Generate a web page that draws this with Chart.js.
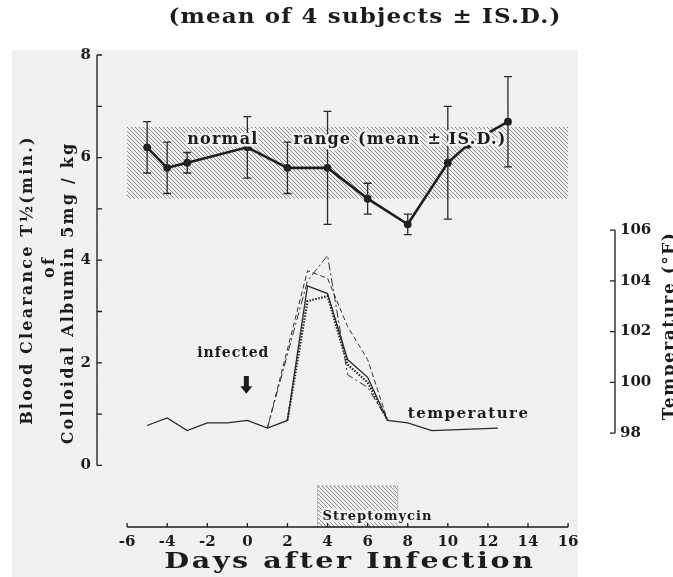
<!DOCTYPE html>
<html>
<head>
<meta charset="utf-8">
<script src="https://cdn.jsdelivr.net/npm/chart.js@4.4.1/dist/chart.umd.min.js"></script>
<style>
  html, body { margin: 0; padding: 0; background: #fff; }
  #wrap { width: 673px; height: 577px; }
</style>
</head>
<body>
<div id="wrap"><canvas id="chart" width="673" height="577"></canvas></div>
<script>
// blood clearance T1/2 (min), mean of 4 subjects and S.D.
const clearDays = [-5, -4, -3, 0, 2, 4, 6, 8, 10, 11, 13];
const clearMean = [6.2, 5.8, 5.9, 6.2, 5.8, 5.8, 5.2, 4.7, 5.9, 6.25, 6.7];
const clearSD = [0.5, 0.5, 0.2, 0.6, 0.5, 1.1, 0.3, 0.2, 1.1, null, 0.88];
const normalRange = [5.2, 6.6];
const normalDays = [-6, 16];
const strepDays = [3.5, 7.5];

// temperature (F), one line per subject
const tempDaysA = [-5, -4, -3, -2, -1, 0, 1, 2, 3, 4, 5, 6, 7, 8, 9.2, 12.5];
const tempValsA = [98.3, 98.6, 98.1, 98.4, 98.4, 98.5, 98.2, 98.5, 103.8, 103.5, 100.9, 100.2, 98.5, 98.4, 98.1, 98.2];
const tempDaysB = [1, 3, 4, 5, 6, 7];
const tempValsB = [98.2, 104.4, 104.1, 102.2, 100.9, 98.5];
const tempDaysC = [1, 3, 4, 5, 6, 7];
const tempValsC = [98.2, 104.0, 105.0, 100.3, 99.8, 98.5];
const tempDaysD = [2, 3, 4, 5, 6, 7];
const tempValsD = [98.5, 103.2, 103.4, 100.7, 100.0, 98.5];

// ticks
const xTicks = [-6, -4, -2, 0, 2, 4, 6, 8, 10, 12, 14, 16];
const yTicks = [0, 1, 2, 3, 4, 5, 6, 7, 8];
const tempTicks = [98, 100, 102, 104, 106];

const ink = "#1c1c1c";
const serif = '"DejaVu Serif", "Liberation Serif", serif';

const pts = (xs, ys) => xs.map((d, i) => ({ x: d, y: ys[i] }));

function hatchPattern(ctx, color) {
  const c = document.createElement("canvas");
  c.width = 4; c.height = 4;
  const g = c.getContext("2d");
  g.strokeStyle = color;
  g.lineWidth = 0.9;
  g.beginPath();
  g.moveTo(-1, -1); g.lineTo(5, 5);
  g.moveTo(-1, 3); g.lineTo(1, 5);
  g.moveTo(3, -1); g.lineTo(5, 1);
  g.stroke();
  return ctx.createPattern(c, "repeat");
}

function haloText(ctx, txt, px, py) {
  ctx.save();
  ctx.strokeStyle = "#f1f1f1";
  ctx.lineWidth = 5;
  ctx.lineJoin = "round";
  ctx.strokeText(txt, px, py);
  ctx.restore();
  ctx.fillText(txt, px, py);
}

// text stretched horizontally, like the wide face of the original
function wideText(ctx, txt, px, py, sx, rot) {
  ctx.save();
  ctx.translate(px, py);
  if (rot) ctx.rotate(rot);
  ctx.scale(sx, 1);
  ctx.fillText(txt, 0, 0);
  ctx.restore();
}

const decor = {
  id: "decor",
  beforeDraw(chart) {
    const ctx = chart.ctx;
    ctx.save();
    ctx.fillStyle = "#fff";
    ctx.fillRect(0, 0, chart.width, chart.height);
    ctx.fillStyle = "#f1f1f1";
    ctx.fillRect(12, 50, 566, 527);
    ctx.restore();
  },
  beforeDatasetsDraw(chart) {
    const { ctx, scales: { x, y, y2 } } = chart;
    ctx.save();
    // normal range band
    ctx.fillStyle = hatchPattern(ctx, "#808080");
    const bx0 = x.getPixelForValue(normalDays[0]), bx1 = x.getPixelForValue(normalDays[1]);
    const by0 = y.getPixelForValue(normalRange[1]), by1 = y.getPixelForValue(normalRange[0]);
    ctx.fillRect(bx0, by0, bx1 - bx0, by1 - by0);
    // streptomycin box
    const sx0 = x.getPixelForValue(strepDays[0]), sx1 = x.getPixelForValue(strepDays[1]);
    const sy0 = y.getPixelForValue(-0.4), sy1 = y.bottom;
    ctx.fillRect(sx0, sy0, sx1 - sx0, sy1 - sy0);
    ctx.strokeStyle = "#888";
    ctx.lineWidth = 0.8;
    ctx.setLineDash([2, 2]);
    ctx.strokeRect(sx0, sy0, sx1 - sx0, sy1 - sy0);
    ctx.setLineDash([]);

    // axes lines with inward ticks
    ctx.strokeStyle = ink;
    ctx.lineWidth = 1.3;
    ctx.beginPath();
    const lx = x.left;
    ctx.moveTo(lx, y.getPixelForValue(0));
    ctx.lineTo(lx, y.getPixelForValue(8));
    yTicks.forEach(v => {
      const py = y.getPixelForValue(v);
      ctx.moveTo(lx, py); ctx.lineTo(lx + 5, py);
    });
    const by = y.bottom;
    ctx.moveTo(x.getPixelForValue(xTicks[0]), by);
    ctx.lineTo(x.getPixelForValue(xTicks[xTicks.length - 1]), by);
    xTicks.forEach(v => {
      const px = x.getPixelForValue(v);
      ctx.moveTo(px, by); ctx.lineTo(px, by - 4);
    });
    const rx = x.right;
    ctx.moveTo(rx, y2.getPixelForValue(tempTicks[0]));
    ctx.lineTo(rx, y2.getPixelForValue(tempTicks[tempTicks.length - 1]));
    tempTicks.forEach(v => {
      const py = y2.getPixelForValue(v);
      ctx.moveTo(rx, py); ctx.lineTo(rx - 5, py);
    });
    ctx.stroke();
    ctx.restore();
  },
  afterDatasetsDraw(chart) {
    const { ctx, scales: { x, y, y2 } } = chart;
    ctx.save();
    // error bars
    ctx.strokeStyle = "#2a2a2a";
    ctx.lineWidth = 1.3;
    ctx.beginPath();
    clearDays.forEach((d, i) => {
      if (clearSD[i] == null) return;
      const px = x.getPixelForValue(d);
      const top = y.getPixelForValue(clearMean[i] + clearSD[i]);
      const bot = y.getPixelForValue(clearMean[i] - clearSD[i]);
      ctx.moveTo(px, top); ctx.lineTo(px, bot);
      ctx.moveTo(px - 4, top); ctx.lineTo(px + 4, top);
      ctx.moveTo(px - 4, bot); ctx.lineTo(px + 4, bot);
    });
    ctx.stroke();

    ctx.fillStyle = ink;
    ctx.textBaseline = "middle";
    ctx.textAlign = "left";
    ctx.font = "bold 16px " + serif;
    ctx.letterSpacing = "1.2px";
    haloText(ctx, "normal", x.getPixelForValue(-3.0), y.getPixelForValue(6.35));
    haloText(ctx, "range (mean \u00b1 IS.D.)", x.getPixelForValue(2.3), y.getPixelForValue(6.35));

    ctx.font = "bold 14px " + serif;
    ctx.letterSpacing = "1px";
    ctx.textAlign = "center";
    ctx.fillText("infected", x.getPixelForValue(-0.7), y2.getPixelForValue(101.15));
    ctx.textAlign = "left";
    ctx.font = "bold 15px " + serif;
    ctx.letterSpacing = "1.5px";
    ctx.fillText("temperature", x.getPixelForValue(8.0), y2.getPixelForValue(98.75));

    // arrow
    const ax = x.getPixelForValue(-0.05);
    const aTop = y2.getPixelForValue(100.25), aMid = y2.getPixelForValue(99.85), aTip = y2.getPixelForValue(99.55);
    ctx.beginPath();
    ctx.moveTo(ax - 2.5, aTop); ctx.lineTo(ax + 2.5, aTop);
    ctx.lineTo(ax + 2.5, aMid); ctx.lineTo(ax + 6, aMid);
    ctx.lineTo(ax, aTip); ctx.lineTo(ax - 6, aMid);
    ctx.lineTo(ax - 2.5, aMid); ctx.closePath();
    ctx.fill();

    ctx.font = "bold 13px " + serif;
    ctx.letterSpacing = "1px";
    haloText(ctx, "Streptomycin", x.getPixelForValue(3.75), y.getPixelForValue(-1.0));

    // titles
    ctx.textAlign = "center";
    ctx.font = "bold 20px " + serif;
    ctx.letterSpacing = "1px";
    wideText(ctx, "(mean of 4 subjects \u00b1 IS.D.)", 365, 18, 1.15);

    ctx.font = "bold 22px " + serif;
    ctx.letterSpacing = "2px";
    wideText(ctx, "Days after Infection", 350, 562, 1.3);

    ctx.font = "bold 16px " + serif;
    ctx.letterSpacing = "2.2px";
    wideText(ctx, "Blood Clearance T\u00bd(min.)", 28, 280, 1, -Math.PI / 2);
    wideText(ctx, "of", 50, 267, 1, -Math.PI / 2);
    wideText(ctx, "Colloidal Albumin 5mg / kg", 69, 293, 1, -Math.PI / 2);
    ctx.font = "bold 17px " + serif;
    ctx.letterSpacing = "1.5px";
    wideText(ctx, "Temperature (\u00b0F)", 670, 326, 1, -Math.PI / 2);
    ctx.letterSpacing = "0px";
    ctx.restore();
  }
};

const tickFont = { family: serif, size: 15, weight: "bold" };

new Chart(document.getElementById("chart"), {
  type: "scatter",
  data: {
    datasets: [
      {
        data: pts(clearDays, clearMean),
        yAxisID: "y",
        showLine: true,
        borderColor: "#1e1e1e",
        backgroundColor: "#1e1e1e",
        borderWidth: 2.6,
        pointRadius: 2.6
      },
      {
        data: pts(tempDaysA, tempValsA),
        yAxisID: "y2",
        showLine: true,
        borderColor: "#2a2a2a",
        borderWidth: 1.3,
        pointRadius: 0
      },
      {
        data: pts(tempDaysB, tempValsB),
        yAxisID: "y2",
        showLine: true,
        borderColor: "#333",
        borderWidth: 1,
        borderDash: [5, 3],
        pointRadius: 0
      },
      {
        data: pts(tempDaysC, tempValsC),
        yAxisID: "y2",
        showLine: true,
        borderColor: "#333",
        borderWidth: 1,
        borderDash: [8, 3, 2, 3],
        pointRadius: 0
      },
      {
        data: pts(tempDaysD, tempValsD),
        yAxisID: "y2",
        showLine: true,
        borderColor: "#222",
        borderWidth: 2.2,
        borderDash: [1.5, 1.5],
        pointRadius: 0
      }
    ]
  },
  options: {
    responsive: false,
    animation: false,
    layout: { padding: { top: 55, left: 0, right: 0, bottom: 0 } },
    plugins: { legend: { display: false }, tooltip: { enabled: false } },
    scales: {
      x: {
        type: "linear",
        min: -7.5,
        max: 18.34,
        afterBuildTicks: s => { s.ticks = xTicks.map(v => ({ value: v })); },
        afterFit: s => { s.height = 50; },
        grid: { display: false, drawTicks: false },
        border: { display: false },
        ticks: { font: tickFont, color: ink, padding: 6, autoSkip: false, maxRotation: 0 }
      },
      y: {
        position: "left",
        min: -1.2,
        max: 8,
        afterBuildTicks: s => { s.ticks = yTicks.map(v => ({ value: v })); },
        afterFit: s => { s.width = 97; },
        grid: { display: false, drawTicks: false },
        border: { display: false },
        ticks: { font: tickFont, color: ink, padding: 6, callback: v => (v % 2 === 0 ? v : "") }
      },
      y2: {
        position: "right",
        min: 94.3,
        max: 112.9,
        afterBuildTicks: s => { s.ticks = tempTicks.map(v => ({ value: v })); },
        afterFit: s => { s.width = 58; },
        grid: { display: false, drawTicks: false },
        border: { display: false },
        ticks: { font: tickFont, color: ink, padding: 5 }
      }
    }
  },
  plugins: [decor]
});
</script>
</body>
</html>
